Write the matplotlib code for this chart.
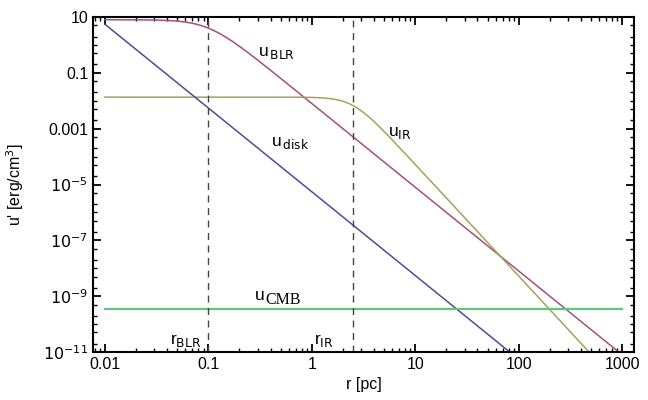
import numpy as np
import matplotlib.pyplot as plt
from matplotlib.ticker import LogLocator, FixedLocator, NullFormatter

# --- model parameters ---
r_grid = np.logspace(-2, 3, 600)        # r [pc]
r_blr = 0.1                              # pc
r_ir = 2.5                               # pc
u0_blr = 8.0                             # erg/cm^3
u0_ir = 0.0135
beta_blr = 3
beta_ir = 4
u_disk_norm = 5.5e-6                     # u_disk = norm * r^-3
u_cmb_level = 3.4e-10

u_blr = u0_blr / (1 + (r_grid / r_blr) ** beta_blr)
u_ir = u0_ir / (1 + (r_grid / r_ir) ** beta_ir)
u_disk = u_disk_norm * r_grid ** -3
u_cmb = np.full_like(r_grid, u_cmb_level)

plt.rcParams['font.family'] = ['Liberation Sans', 'DejaVu Sans']

fig = plt.figure(figsize=(6.48, 4.0), dpi=100)
ax = fig.add_axes([93 / 648, 1 - 352 / 400, (634 - 93) / 648, (352 - 17) / 400])

ax.plot(r_grid, u_blr, color='#a5507a', lw=1.1)
ax.plot(r_grid, u_ir, color='#a3a45a', lw=1.1)
ax.plot(r_grid, u_disk, color='#4d4c98', lw=1.1)
ax.plot(r_grid, u_cmb, color='#5ec87a', lw=1.6)

ax.axvline(r_blr, color='#444444', ls=(0, (5, 4)), lw=1.0)
ax.axvline(r_ir, color='#444444', ls=(0, (5, 4)), lw=1.0)

ax.set_xscale('log')
ax.set_yscale('log')
ax.set_xlim(10 ** (-2 - 12 / 104), 10 ** (3 + 12 / 104))
ax.set_ylim(1e-11, 10)

ytick_vals = [10, 0.1, 0.001, 1e-5, 1e-7, 1e-9, 1e-11]
ytick_labels = ['10', '0.1', '0.001', r'$10^{-5}$', r'$10^{-7}$', r'$10^{-9}$', r'$10^{-11}$']
xtick_vals = [0.01, 0.1, 1, 10, 100, 1000]
xtick_labels = ['0.01', '0.1', '1', '10', '100', '1000']

ax.yaxis.set_major_locator(FixedLocator(ytick_vals))
ax.set_yticklabels(ytick_labels)
ax.yaxis.set_minor_locator(LogLocator(base=10, subs=(1.0, 2.0, 5.0), numticks=50))
ax.yaxis.set_minor_formatter(NullFormatter())
ax.xaxis.set_major_locator(FixedLocator(xtick_vals))
ax.set_xticklabels(xtick_labels)
ax.xaxis.set_minor_locator(LogLocator(base=10, subs=np.arange(2, 10), numticks=50))
ax.xaxis.set_minor_formatter(NullFormatter())

ax.tick_params(which='both', direction='in', top=True, right=True, labelsize=11.5)
ax.tick_params(which='major', length=6, width=1.3)
ax.tick_params(which='minor', length=3, width=1.0)
for s in ax.spines.values():
    s.set_linewidth(1.5)

ax.set_xlabel('r [pc]', fontsize=11.5, labelpad=4)
ax.set_ylabel("u' [erg/cm$^3$]", fontsize=11.5, labelpad=12)

lbl = dict(fontsize=12.5, va='center', ha='left')
ax.text(0.30, 0.5, r'u$_{\,\mathrm{BLR}}$', **lbl)
ax.text(0.40, 3.0e-4, r'u$_{\,\mathrm{disk}}$', **lbl)
ax.text(5.4, 7e-4, r'u$_{\mathrm{IR}}$', **lbl)
ax.text(0.28, 1.1e-9, 'u', **lbl)
ax.text(0.355, 7.5e-10, 'CMB', fontsize=11.5, family='Liberation Serif', va='center', ha='left')
ax.text(0.043, 2.5e-11, r'r$_{\mathrm{BLR}}$', **lbl)
ax.text(1.05, 2.5e-11, r'r$_{\mathrm{IR}}$', **lbl)

fig.savefig('out.png', dpi=100)
